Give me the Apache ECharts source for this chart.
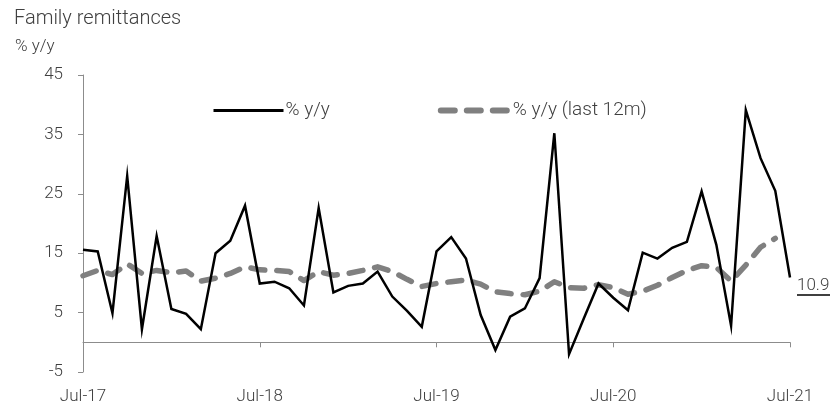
<!DOCTYPE html>
<html>
<head>
<meta charset="utf-8">
<script src="https://cdn.jsdelivr.net/npm/echarts@6/dist/echarts.min.js"></script>
<style>
  html, body { margin: 0; padding: 0; background: #fff; }
  #chart { width: 830px; height: 411px; }
</style>
</head>
<body>
<div id="chart"></div>
<script>
// Monthly observations, Jul-17 .. Jul-21
const months = [
  'Jul-17','Aug-17','Sep-17','Oct-17','Nov-17','Dec-17','Jan-18','Feb-18','Mar-18','Apr-18','May-18','Jun-18',
  'Jul-18','Aug-18','Sep-18','Oct-18','Nov-18','Dec-18','Jan-19','Feb-19','Mar-19','Apr-19','May-19','Jun-19',
  'Jul-19','Aug-19','Sep-19','Oct-19','Nov-19','Dec-19','Jan-20','Feb-20','Mar-20','Apr-20','May-20','Jun-20',
  'Jul-20','Aug-20','Sep-20','Oct-20','Nov-20','Dec-20','Jan-21','Feb-21','Mar-21','Apr-21','May-21','Jun-21',
  'Jul-21'
];

// Family remittances, % y/y
const yoy = [
  15.6, 15.3, 4.9, 28.0, 2.2, 17.9, 5.6, 4.8, 2.2, 15.0, 17.1, 23.0,
  9.9, 10.2, 9.1, 6.2, 22.6, 8.4, 9.5, 9.9, 11.9, 7.7, 5.3, 2.6,
  15.3, 17.7, 14.1, 4.6, -1.3, 4.3, 5.7, 10.8, 35.2, -2.0, 4.0, 9.9,
  7.5, 5.4, 15.1, 14.1, 15.9, 16.9, 25.4, 16.4, 2.8, 39.1, 31.0, 25.5,
  10.9
];

// Family remittances, % y/y over the last 12 months
const yoy12m = [
  11.2, 12.1, 11.4, 13.2, 11.6, 12.1, 11.7, 12.0, 10.3, 10.8, 11.6, 12.7,
  12.2, 12.1, 11.9, 10.4, 11.9, 11.3, 11.6, 12.1, 12.7, 11.9, 10.6, 9.4,
  9.9, 10.2, 10.5, 9.8, 8.5, 8.2, 8.0, 8.6, 10.2, 9.2, 9.1, 9.7,
  9.2, 8.1, 8.6, 9.6, 10.9, 12.1, 12.9, 12.6, 10.3, 13.0, 16.0, 17.5,
  null
];

const yTicks = [-5, 5, 15, 25, 35, 45];
const seriesNames = ['% y/y', '% y/y (last 12m)'];

const FONT = 'Roboto';
const TEXT = '#404040';
const AXIS = '#8c8c8c';
const GREY = '#808080';
const DASH = [14, 12];

const chart = echarts.init(document.getElementById('chart'), null, { renderer: 'canvas' });

chart.setOption({
  animation: false,
  backgroundColor: '#fff',
  textStyle: { fontFamily: FONT, fontWeight: 300, color: TEXT },
  title: [
    { text: 'Family remittances', left: 9, top: 4,
      textStyle: { fontFamily: FONT, fontWeight: 300, fontSize: 20, color: TEXT } },
    { text: '% y/y', left: 10, top: 33,
      textStyle: { fontFamily: FONT, fontWeight: 300, fontSize: 17, color: TEXT } }
  ],
  legend: {
    left: 207, top: 96,
    itemWidth: 70, itemHeight: 14, itemGap: 108,
    itemStyle: { opacity: 0 },
    textStyle: { fontFamily: FONT, fontWeight: 300, fontSize: 19, color: TEXT, padding: [0, 0, 0, -3] },
    data: [
      { name: seriesNames[0], lineStyle: { width: 3, color: '#000' } },
      { name: seriesNames[1], lineStyle: { width: 6, color: GREY, type: DASH, cap: 'round' } }
    ]
  },
  grid: { left: 83, right: 40, top: 75, bottom: 39, containLabel: false },
  xAxis: [
    {
      type: 'category', data: months, boundaryGap: false,
      axisLine: { onZero: true, lineStyle: { color: AXIS, width: 1 } },
      axisTick: { show: true, interval: 11, length: 5, lineStyle: { color: AXIS } },
      axisLabel: { show: false },
      splitLine: { show: false }
    },
    {
      type: 'category', data: months, boundaryGap: false, position: 'bottom',
      axisLine: { show: false, onZero: false },
      axisTick: { show: false },
      axisLabel: { show: true, interval: 11, margin: 16, fontFamily: FONT, fontWeight: 300, fontSize: 17, color: TEXT },
      splitLine: { show: false }
    }
  ],
  yAxis: {
    type: 'value', min: -5, max: 45,
    axisLine: { show: true, lineStyle: { color: AXIS, width: 1 } },
    axisTick: { show: true, length: 5, customValues: yTicks, lineStyle: { color: AXIS } },
    axisLabel: { show: true, customValues: yTicks, margin: 20, fontFamily: FONT, fontWeight: 300, fontSize: 17, color: TEXT },
    splitLine: { show: false }
  },
  series: [
    {
      name: seriesNames[0], type: 'line', data: yoy,
      xAxisIndex: 0, symbol: 'none', z: 3,
      lineStyle: { color: '#000', width: 2.5, join: 'miter' },
      itemStyle: { color: '#000' },
      endLabel: {
        show: true, distance: 7, offset: [0, 9],
        formatter: (p) => '{v|' + p.value.toFixed(1) + '}\n{u|}',
        rich: {
          v: { fontFamily: FONT, fontWeight: 300, fontSize: 17, color: TEXT, lineHeight: 17 },
          u: { width: 34, height: 1.5, backgroundColor: '#000' }
        }
      }
    },
    {
      name: seriesNames[1], type: 'line', data: yoy12m,
      xAxisIndex: 0, symbol: 'none', z: 2,
      lineStyle: { color: GREY, width: 5.5, type: DASH, cap: 'round', join: 'round' },
      itemStyle: { color: GREY }
    }
  ]
});
</script>
</body>
</html>
